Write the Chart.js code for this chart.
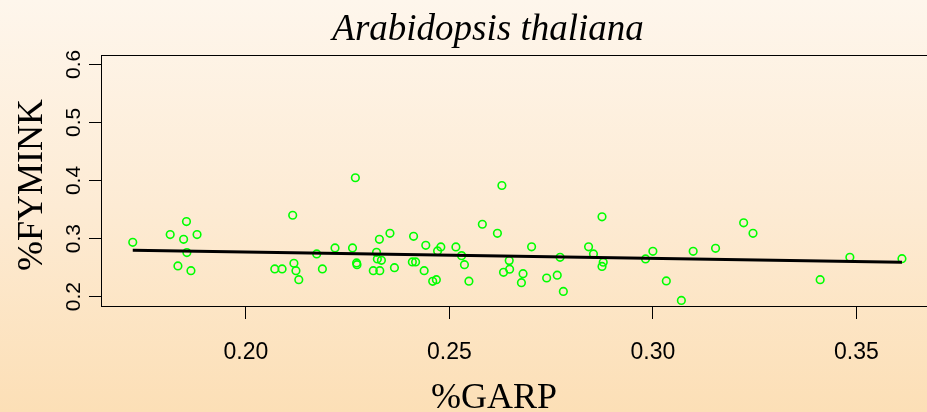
<!DOCTYPE html>
<html>
<head>
<meta charset="utf-8">
<title>Arabidopsis thaliana</title>
<script src="https://cdn.jsdelivr.net/npm/chart.js@4/dist/chart.umd.min.js"></script>
<style>
    html, body { margin: 0; padding: 0; }
    #wrap {
        width: 927px;
        height: 412px;
        overflow: hidden;
        background: linear-gradient(to bottom, #fef6ec 0%, #fdebd4 50%, #fcdfb6 100%);
    }
    canvas { display: block; }
</style>
</head>
<body>
<div id="wrap"><canvas id="plot" width="980" height="412"></canvas></div>
<script>
// %GARP vs %FYMINK, one point per gene
const garp = [
    0.1722, 0.1814, 0.1854, 0.1847, 0.1880, 0.1855, 0.1833, 0.1865,
    0.2115, 0.2071, 0.2089, 0.2118, 0.2123, 0.2130, 0.2174, 0.2188,
    0.2219, 0.2262, 0.2269, 0.2272, 0.2273, 0.2321, 0.2328, 0.2354,
    0.2323, 0.2333, 0.2313, 0.2329, 0.2365, 0.2412, 0.2442, 0.2479,
    0.2471, 0.2409, 0.2417, 0.2438, 0.2459, 0.2468, 0.2516, 0.2530,
    0.2537, 0.2548, 0.2581, 0.2618, 0.2629, 0.2647, 0.2648, 0.2633,
    0.2681, 0.2677, 0.2702, 0.2739, 0.2765, 0.2772, 0.2780, 0.2842,
    0.2854, 0.2875, 0.2878, 0.2875, 0.2982, 0.3000, 0.3033, 0.3070,
    0.3099, 0.3154, 0.3223, 0.3246, 0.3411, 0.3484, 0.3612
];
const fymink = [
    0.2936, 0.3069, 0.3293, 0.2988, 0.3069, 0.2759, 0.2529, 0.2448,
    0.3402, 0.2478, 0.2478, 0.2574, 0.2448, 0.2293, 0.2736, 0.2478,
    0.2840, 0.2840, 0.4047, 0.2581, 0.2552, 0.2764, 0.2988, 0.3091,
    0.2650, 0.2626, 0.2448, 0.2448, 0.2500, 0.3040, 0.2884, 0.2857,
    0.2788, 0.2598, 0.2598, 0.2448, 0.2264, 0.2293, 0.2857, 0.2707,
    0.2552, 0.2267, 0.3247, 0.3091, 0.3914, 0.2621, 0.2474, 0.2419,
    0.2397, 0.2241, 0.2859, 0.2322, 0.2371, 0.2678, 0.2090, 0.2859,
    0.2736, 0.3374, 0.2595, 0.2521, 0.2650, 0.2781, 0.2271, 0.1936,
    0.2781, 0.2833, 0.3271, 0.3091, 0.2293, 0.2678, 0.2655
];

// fitted trend line, ends
const fitX = [0.1722, 0.3612];
const fitY = [0.2798, 0.2591];

const xTicks = [0.20, 0.25, 0.30, 0.35];
const yTicks = [0.2, 0.3, 0.4, 0.5, 0.6];

const title = 'Arabidopsis thaliana';
const xTitle = '%GARP';
const yTitle = '%FYMINK';

const sans = '"Liberation Sans", Arial, sans-serif';
const serif = '"Liberation Serif", "Times New Roman", serif';

const textPlugin = {
    id: 'rText',
    afterDraw(chart) {
        const { ctx, chartArea: a, scales } = chart;
        ctx.save();

        // box around the plot region
        ctx.strokeStyle = '#000';
        ctx.lineWidth = 1;
        ctx.strokeRect(Math.round(a.left) + 0.5, Math.round(a.top) + 0.5,
            Math.round(a.right - a.left), Math.round(a.bottom - a.top));

        ctx.fillStyle = '#000';
        ctx.textBaseline = 'alphabetic';

        // x tick labels
        ctx.font = '23px ' + sans;
        ctx.textAlign = 'center';
        xTicks.forEach((v) => {
            ctx.fillText(v.toFixed(2), scales.x.getPixelForValue(v), 359);
        });

        // y tick labels, turned like R's las=0
        ctx.font = '21px ' + sans;
        yTicks.forEach((v) => {
            ctx.save();
            ctx.translate(80, scales.y.getPixelForValue(v));
            ctx.rotate(-Math.PI / 2);
            ctx.fillText(v.toFixed(1), 0, 0);
            ctx.restore();
        });

        // titles
        ctx.font = 'italic 37px ' + serif;
        ctx.fillText(title, 488, 40);

        ctx.font = '36px ' + serif;
        ctx.fillText(xTitle, 494, 408);

        ctx.save();
        ctx.translate(42, 185);
        ctx.rotate(-Math.PI / 2);
        ctx.fillText(yTitle, 0, 0);
        ctx.restore();

        ctx.restore();
    },
};

const canvas = document.getElementById('plot');

const chart = new Chart(canvas, {
    type: 'scatter',
    data: {
        datasets: [
            {
                type: 'line',
                data: fitX.map((x, i) => ({ x, y: fitY[i] })),
                borderColor: '#000',
                borderWidth: 3,
                pointRadius: 0,
                tension: 0,
                fill: false,
                order: 1,
            },
            {
                data: garp.map((x, i) => ({ x, y: fymink[i] })),
                pointStyle: 'circle',
                pointRadius: 3.8,
                pointBorderWidth: 1.6,
                borderColor: '#00ff00',
                backgroundColor: 'rgba(0,0,0,0)',
                order: 2,
            },
        ],
    },
    options: {
        responsive: false,
        animation: false,
        devicePixelRatio: 1,
        layout: {
            padding: { top: 55, left: 0, right: 5, bottom: 0 },
        },
        scales: {
            x: {
                type: 'linear',
                min: 0.1644,
                max: 0.3790,
                afterBuildTicks: (s) => { s.ticks = xTicks.map((value) => ({ value })); },
                afterFit: (s) => { s.height = 106; },
                ticks: { display: false },
                border: { display: false },
                grid: {
                    drawOnChartArea: false,
                    drawTicks: true,
                    tickLength: 13,
                    color: '#000',
                    lineWidth: 1,
                },
            },
            y: {
                type: 'linear',
                min: 0.184,
                max: 0.616,
                afterBuildTicks: (s) => { s.ticks = yTicks.map((value) => ({ value })); },
                afterFit: (s) => { s.width = 101; },
                ticks: { display: false },
                border: { display: false },
                grid: {
                    drawOnChartArea: false,
                    drawTicks: true,
                    tickLength: 12,
                    color: '#000',
                    lineWidth: 1,
                },
            },
        },
        plugins: {
            legend: { display: false },
            tooltip: { enabled: false },
        },
    },
    plugins: [textPlugin],
});
</script>
</body>
</html>
